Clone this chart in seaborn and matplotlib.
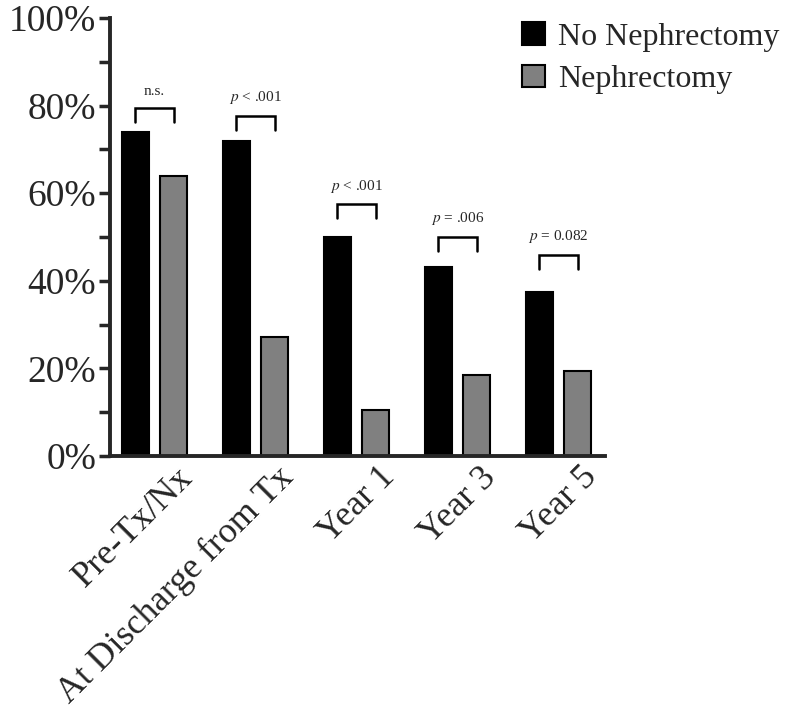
import pandas as pd
import numpy as np
import matplotlib
matplotlib.use("Agg")
import matplotlib.pyplot as plt
import matplotlib.transforms as mtransforms
import seaborn as sns

# values (%)
periods = ["Pre-Tx/Nx", "At Discharge from Tx", "Year 1", "Year 3", "Year 5"]
no_nephrectomy = [74, 72, 50, 43.2, 37.4]
nephrectomy = [64, 27.2, 10.5, 18.5, 19.4]
p_labels = ["n.s.", r"$\mathit{p}$ < .001", r"$\mathit{p}$ < .001",
            r"$\mathit{p}$ = .006", r"$\mathit{p}$ = 0.082"]
bracket_y = [79.5, 77.6, 57.5, 50, 46]
groups = ["No Nephrectomy", "Nephrectomy"]

df = pd.DataFrame({
    "period": periods * 2,
    "group": [groups[0]] * len(periods) + [groups[1]] * len(periods),
    "value": no_nephrectomy + nephrectomy,
})

sns.set_style("white")
plt.rcParams["font.family"] = ["Liberation Serif", "DejaVu Serif"]
plt.rcParams["mathtext.fontset"] = "stix"

fig = plt.figure(figsize=(8, 7.2), dpi=100)
ax = fig.add_axes([0.1375, 0.3667, 0.6188, 0.6083])

sns.barplot(data=df, x="period", y="value", hue="group", order=periods,
            hue_order=groups, palette=["#000000", "#808080"],
            width=0.76, gap=0.3, edgecolor="black", linewidth=1.5,
            errorbar=None, ax=ax)

ax.set_ylim(0, 100)
ax.set_xlim(-0.44, 4.46)
ax.set_yticks(np.arange(0, 101, 20))
ax.set_yticks(np.arange(10, 100, 20), minor=True)
ax.set_yticklabels([f"{v}%" for v in range(0, 101, 20)])
ax.tick_params(axis="y", which="both", direction="out", length=8, width=2.5,
               left=True, labelsize=27, pad=2)
ax.tick_params(axis="x", length=0, labelsize=26, pad=2)
shift = mtransforms.ScaledTranslation(0.22, -0.02, fig.dpi_scale_trans)
for lab in ax.get_xticklabels():
    lab.set_rotation(45)
    lab.set_ha("right")
    lab.set_rotation_mode("anchor")
    lab.set_transform(lab.get_transform() + shift)
ax.set_xlabel("")
ax.set_ylabel("")
sns.despine(ax=ax)
for s in ["left", "bottom"]:
    ax.spines[s].set_linewidth(2.8)

# significance brackets
black_bars = ax.containers[0]
gray_bars = ax.containers[1]
for i, lab in enumerate(p_labels):
    b0 = black_bars[i]
    b1 = gray_bars[i]
    x0 = b0.get_x() + b0.get_width() / 2
    x1 = b1.get_x() + b1.get_width() / 2
    top = bracket_y[i]
    ax.plot([x0, x0, x1, x1], [top - 3.2, top, top, top - 3.2],
            color="black", lw=1.8, solid_joinstyle="miter", clip_on=False)
    ax.text((x0 + x1) / 2, top + 2.2, lab, ha="center", va="bottom",
            fontsize=11)

ax.get_legend().remove()
handles = [black_bars[0], gray_bars[0]]
fig.legend(handles, groups, loc="upper left", bbox_to_anchor=(0.6525, 0.969),
           frameon=False, fontsize=23, handlelength=0.72, handleheight=0.72,
           handletextpad=0.4, labelspacing=0.4, borderpad=0,
           borderaxespad=0)

fig.savefig("out.png", dpi=100)
